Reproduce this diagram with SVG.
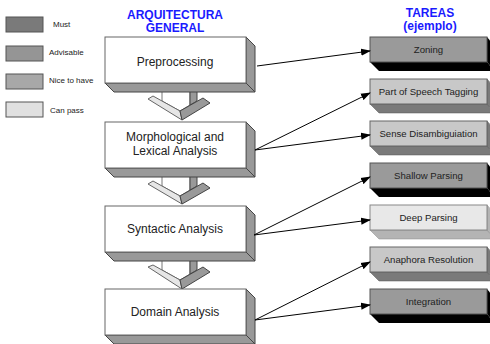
<svg xmlns="http://www.w3.org/2000/svg" width="490" height="344" viewBox="0 0 490 344">
<style>
.lg{stroke:#555;stroke-width:1}
.lt{font-family:"Liberation Sans",Arial,sans-serif;font-size:8px;fill:#222}
.hd{font-family:"Liberation Sans",Arial,sans-serif;font-size:12px;font-weight:bold;fill:#1a1aff;text-anchor:middle}
.front{fill:#fff;stroke:#666;stroke-width:1}
.side{fill:#999;stroke:#444;stroke-width:1;stroke-linejoin:round}
.bt{font-family:"Liberation Sans",Arial,sans-serif;font-size:12px;fill:#222;text-anchor:middle}
.rt{font-family:"Liberation Sans",Arial,sans-serif;font-size:9.6px;fill:#222;text-anchor:middle}
.stem{fill:#fff;stroke:#777;stroke-width:1}
.larm{fill:#e6e6e6;stroke:#666;stroke-width:1;stroke-linejoin:round}
.rarm{fill:#999;stroke:#444;stroke-width:1;stroke-linejoin:round}
.must{fill:#9a9a9a;stroke:#555;stroke-width:1}
.mustS{fill:#000}
.nice{fill:#c8c8c8;stroke:#666;stroke-width:1}
.niceS{fill:#7a7a7a;stroke:#555;stroke-width:0.5}
.pass{fill:#e8e8e8;stroke:#888;stroke-width:1}
.passS{fill:#b4b4b4;stroke:#888;stroke-width:0.5}
.conn line{stroke:#000;stroke-width:1;marker-end:url(#ah)}
</style>
<defs>
<marker id="ah" markerWidth="10" markerHeight="8" refX="9" refY="4" orient="auto" markerUnits="userSpaceOnUse">
<path d="M0,0.5 L10,4 L0,7.5 Z" fill="#000"/>
</marker>
</defs>
<rect width="490" height="344" fill="#fff"/>

<g id="legend">
<rect class="lg" x="6" y="17" width="37" height="15" fill="#7a7a7a"/>
<text class="lt" x="53" y="27">Must</text>
<rect class="lg" x="6" y="46" width="37" height="15" fill="#959595"/>
<text class="lt" x="49" y="55">Advisable</text>
<rect class="lg" x="6" y="74" width="37" height="15" fill="#a8a8a8"/>
<text class="lt" x="49" y="83">Nice to have</text>
<rect class="lg" x="6" y="102" width="37" height="15" fill="#e0e0e0"/>
<text class="lt" x="50" y="113">Can pass</text>
</g>

<g id="headers">
<text class="hd" x="175" y="19">ARQUITECTURA</text>
<text class="hd" x="175" y="32">GENERAL</text>
<text class="hd" x="430" y="17">TAREAS</text>
<text class="hd" x="430" y="30">(ejemplo)</text>
</g>

<g id="flow1">
<polygon class="stem" points="162,83 190,83 190,105 180,111 162,101"/>
<polygon class="side" points="190,83 197,90 197,101 190,105"/>
<polygon class="larm" points="148,99 153,96 180,111 182,120"/>
<polygon class="rarm" points="180,111 203,98 210,103 182,120"/>
</g>
<g id="flow2">
<polygon class="stem" points="162,168 190,168 190,190 180,196 162,186"/>
<polygon class="side" points="190,168 197,175 197,186 190,190"/>
<polygon class="larm" points="148,184 153,181 180,196 182,204"/>
<polygon class="rarm" points="180,196 203,183 210,188 182,204"/>
</g>
<g id="flow3">
<polygon class="stem" points="162,252 190,252 190,274 180,280 162,270"/>
<polygon class="side" points="190,252 197,259 197,270 190,274"/>
<polygon class="larm" points="148,267 153,265 180,280 182,289"/>
<polygon class="rarm" points="180,280 203,267 210,272 182,289"/>
</g>

<g id="preprocessing">
<polygon class="side" points="246,37 255,46 255,92 246,83"/>
<polygon class="side" points="105,83 246,83 255,92 114,92"/>
<rect class="front" x="105" y="37" width="141" height="46"/>
<text class="bt" x="175" y="66">Preprocessing</text>
</g>
<g id="morphological">
<polygon class="side" points="246,122 255,131 255,177 246,168"/>
<polygon class="side" points="105,168 246,168 255,177 114,177"/>
<rect class="front" x="105" y="122" width="141" height="46"/>
<text class="bt" x="175" y="141">Morphological and</text>
<text class="bt" x="175" y="155">Lexical Analysis</text>
</g>
<g id="syntactic">
<polygon class="side" points="246,206 255,215 255,261 246,252"/>
<polygon class="side" points="105,252 246,252 255,261 114,261"/>
<rect class="front" x="105" y="206" width="141" height="46"/>
<text class="bt" x="175" y="233">Syntactic Analysis</text>
</g>
<g id="domain">
<polygon class="side" points="246,289 255,298 255,344 246,335"/>
<polygon class="side" points="105,335 246,335 255,344 114,344"/>
<rect class="front" x="105" y="289" width="141" height="46"/>
<text class="bt" x="175" y="316">Domain Analysis</text>
</g>

<g id="zoning">
<polygon class="mustS" points="370,62 487,62 495,71 379,71"/>
<polygon class="mustS" points="487,37 495,46 495,71 487,62"/>
<rect class="must" x="370" y="37" width="117" height="25"/>
<text class="rt" x="428.5" y="53">Zoning</text>
</g>
<g id="pos">
<polygon class="niceS" points="370,104 487,104 495,113 379,113"/>
<polygon class="niceS" points="487,79 495,88 495,113 487,104"/>
<rect class="nice" x="370" y="79" width="117" height="25"/>
<text class="rt" x="428.5" y="95">Part of Speech Tagging</text>
</g>
<g id="sense">
<polygon class="niceS" points="370,146 487,146 495,155 379,155"/>
<polygon class="niceS" points="487,121 495,130 495,155 487,146"/>
<rect class="nice" x="370" y="121" width="117" height="25"/>
<text class="rt" x="428.5" y="137">Sense Disambiguiation</text>
</g>
<g id="shallow">
<polygon class="mustS" points="370,188 487,188 495,197 379,197"/>
<polygon class="mustS" points="487,163 495,172 495,197 487,188"/>
<rect class="must" x="370" y="163" width="117" height="25"/>
<text class="rt" x="428.5" y="179">Shallow Parsing</text>
</g>
<g id="deep">
<polygon class="passS" points="370,230 487,230 495,239 379,239"/>
<polygon class="passS" points="487,205 495,214 495,239 487,230"/>
<rect class="pass" x="370" y="205" width="117" height="25"/>
<text class="rt" x="428.5" y="221">Deep Parsing</text>
</g>
<g id="anaphora">
<polygon class="niceS" points="370,272 487,272 495,281 379,281"/>
<polygon class="niceS" points="487,247 495,256 495,281 487,272"/>
<rect class="nice" x="370" y="247" width="117" height="25"/>
<text class="rt" x="428.5" y="263">Anaphora Resolution</text>
</g>
<g id="integration">
<polygon class="mustS" points="370,314 487,314 495,323 379,323"/>
<polygon class="mustS" points="487,289 495,298 495,323 487,314"/>
<rect class="must" x="370" y="289" width="117" height="25"/>
<text class="rt" x="428.5" y="305">Integration</text>
</g>

<g id="connectors" class="conn">
<line x1="257" y1="66" x2="370" y2="51"/>
<line x1="255" y1="150" x2="370" y2="93"/>
<line x1="255" y1="150" x2="370" y2="135"/>
<line x1="254" y1="235" x2="370" y2="177"/>
<line x1="254" y1="235" x2="370" y2="220"/>
<line x1="255" y1="320" x2="370" y2="262"/>
<line x1="255" y1="320" x2="370" y2="305"/>
</g>
</svg>
